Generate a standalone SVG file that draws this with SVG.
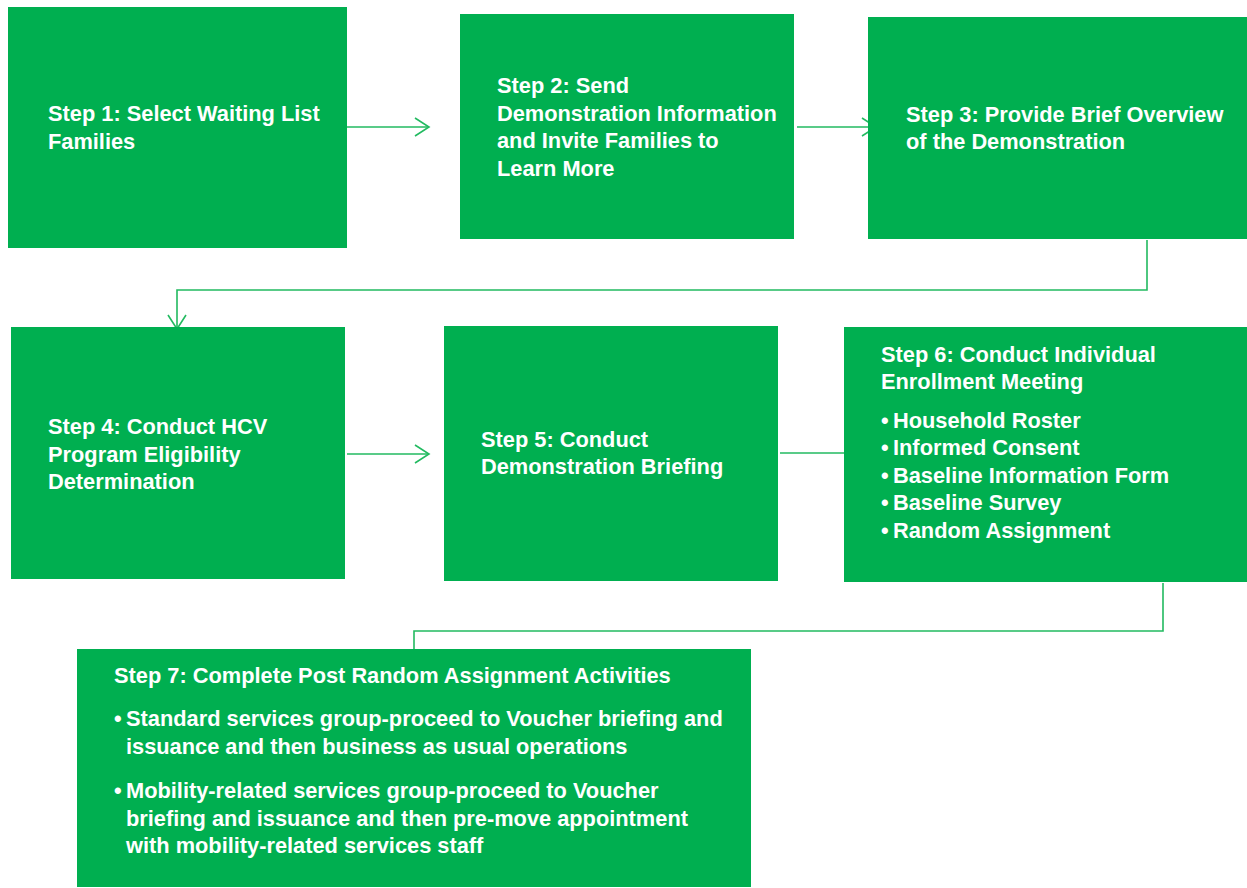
<svg xmlns="http://www.w3.org/2000/svg" width="1247" height="888" viewBox="0 0 1247 888">
<style>
.box{fill:#00AF50;}
.t{font-family:"Liberation Sans",Arial,sans-serif;font-weight:bold;font-size:21.8px;fill:#ffffff;}
.c{fill:none;stroke:#22BA60;stroke-width:1.6;}
</style>
<defs>
<marker id="arr" markerUnits="userSpaceOnUse" markerWidth="20" markerHeight="24" viewBox="-16 -12 20 24" refX="0" refY="0" orient="auto">
<path d="M-14,-9 L0,0 L-14,9" fill="none" stroke="#22BA60" stroke-width="1.6"/>
</marker>
</defs>
<rect width="1247" height="888" fill="#ffffff"/>
<g id="connectors">
<path class="c" d="M347,127 H429" marker-end="url(#arr)"/>
<path class="c" d="M797,127 H876" marker-end="url(#arr)"/>
<path class="c" d="M1147,240 V290 H177 V329" marker-end="url(#arr)"/>
<path class="c" d="M347,454 H429" marker-end="url(#arr)"/>
<path class="c" d="M780,453 H844"/>
<path class="c" d="M1163,583 V631 H414 V649"/>
</g>
<g id="step1">
<rect class="box" x="8" y="7" width="339" height="241"/>
<text class="t" x="48" y="121">Step 1: Select Waiting List</text>
<text class="t" x="48" y="149">Families</text>
</g>
<g id="step2">
<rect class="box" x="460" y="14" width="334" height="225"/>
<text class="t" x="497" y="93">Step 2: Send</text>
<text class="t" x="497" y="120.5">Demonstration Information</text>
<text class="t" x="497" y="148">and Invite Families to</text>
<text class="t" x="497" y="175.5">Learn More</text>
</g>
<g id="step3">
<rect class="box" x="868" y="17" width="379" height="222"/>
<text class="t" x="906" y="122">Step 3: Provide Brief Overview</text>
<text class="t" x="906" y="149">of the Demonstration</text>
</g>
<g id="step4">
<rect class="box" x="11" y="327" width="334" height="252"/>
<text class="t" x="48" y="434">Step 4: Conduct HCV</text>
<text class="t" x="48" y="461.5">Program Eligibility</text>
<text class="t" x="48" y="489">Determination</text>
</g>
<g id="step5">
<rect class="box" x="444" y="326" width="334" height="255"/>
<text class="t" x="481" y="447">Step 5: Conduct</text>
<text class="t" x="481" y="474">Demonstration Briefing</text>
</g>
<g id="step6">
<rect class="box" x="844" y="327" width="403" height="255"/>
<text class="t" x="881" y="362">Step 6: Conduct Individual</text>
<text class="t" x="881" y="389">Enrollment Meeting</text>
<text class="t" x="881" y="428">•</text><text class="t" x="893" y="428">Household Roster</text>
<text class="t" x="881" y="455">•</text><text class="t" x="893" y="455">Informed Consent</text>
<text class="t" x="881" y="483">•</text><text class="t" x="893" y="483">Baseline Information Form</text>
<text class="t" x="881" y="510">•</text><text class="t" x="893" y="510">Baseline Survey</text>
<text class="t" x="881" y="538">•</text><text class="t" x="893" y="538">Random Assignment</text>
</g>
<g id="step7">
<rect class="box" x="77" y="649" width="674" height="238"/>
<text class="t" x="114" y="683">Step 7: Complete Post Random Assignment Activities</text>
<text class="t" x="114" y="726">•</text><text class="t" x="126" y="726">Standard services group-proceed to Voucher briefing and</text>
<text class="t" x="126" y="754">issuance and then business as usual operations</text>
<text class="t" x="114" y="798">•</text><text class="t" x="126" y="798">Mobility-related services group-proceed to Voucher</text>
<text class="t" x="126" y="826">briefing and issuance and then pre-move appointment</text>
<text class="t" x="126" y="853">with mobility-related services staff</text>
</g>
</svg>
